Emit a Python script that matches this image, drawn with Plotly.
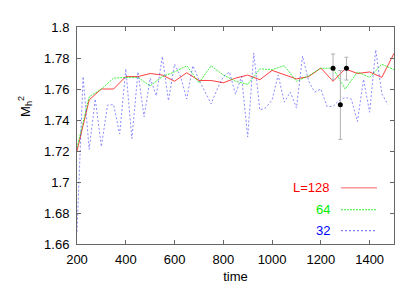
import plotly.graph_objects as go

# ---- data ----
t_main = [200, 250, 300, 350, 400, 450, 500, 550, 600, 650, 700, 750, 800, 850,
          900, 950, 1000, 1050, 1100, 1150, 1200, 1250, 1300, 1350, 1400, 1450, 1500]
m_L128 = [1.720, 1.753, 1.760, 1.760, 1.768, 1.768, 1.770, 1.769, 1.765, 1.7705,
          1.7655, 1.7655, 1.764, 1.767, 1.769, 1.766, 1.772, 1.769, 1.7665, 1.768,
          1.7735, 1.765, 1.773, 1.770, 1.771, 1.7675, 1.783]
m_L64 = [1.722, 1.755, 1.760, 1.767, 1.7675, 1.7675, 1.762, 1.768, 1.771, 1.775,
         1.764, 1.775, 1.769, 1.765, 1.763, 1.773, 1.7725, 1.775, 1.765, 1.7685,
         1.7734, 1.7734, 1.760, 1.771, 1.7675, 1.776, 1.7725]
t_L32 = [200, 225, 250, 275, 300, 325, 350, 375, 400, 425,
         450, 475, 500, 525, 550, 575, 600, 625, 650, 675,
         700, 725, 750, 775, 800, 825, 850, 875, 900, 925,
         950, 975, 1000, 1025, 1050, 1075, 1100, 1125, 1150, 1175,
         1200, 1225, 1250, 1275, 1300, 1325, 1350, 1375, 1400, 1425,
         1450, 1475]
m_L32 = [1.668, 1.768, 1.721, 1.7535, 1.7228, 1.7495, 1.750, 1.731, 1.773, 1.728,
         1.771, 1.742, 1.767, 1.7556, 1.781, 1.7525, 1.776, 1.768, 1.7535, 1.775,
         1.766, 1.758, 1.7504, 1.760, 1.768, 1.771, 1.7566, 1.768, 1.729, 1.7832,
         1.7464, 1.748, 1.753, 1.769, 1.7515, 1.758, 1.7477, 1.7812, 1.765, 1.758,
         1.760, 1.7488, 1.7488, 1.7525, 1.7546, 1.7535, 1.739, 1.7663, 1.745, 1.7853,
         1.757, 1.750]
t_err = [1250, 1280, 1305]
m_err = [1.7734, 1.7498, 1.7734]
err_plus = [0.0092, 0.0221, 0.0071]
err_minus = [0.0072, 0.0223, 0.0076]

x_ticks = [200, 400, 600, 800, 1000, 1200, 1400]
y_ticks = [1.66, 1.68, 1.70, 1.72, 1.74, 1.76, 1.78, 1.80]
y_ticktext = ["1.66", "1.68", "1.7", "1.72", "1.74", "1.76", "1.78", "1.8"]

legend_labels = ["L=128", "64", "32"]
colors = ["#ff0000", "#00ee00", "#0000ff"]

FONT = "Liberation Sans, Arial, sans-serif"

fig = go.Figure()
fig.add_trace(go.Scatter(x=t_main, y=m_L128, mode="lines",
                         line=dict(color=colors[0], width=1, dash="solid"), opacity=0.75))
fig.add_trace(go.Scatter(x=t_main, y=m_L64, mode="lines",
                         line=dict(color=colors[1], width=1, dash="2px,1px"), opacity=0.75))
fig.add_trace(go.Scatter(x=t_L32, y=m_L32, mode="lines",
                         line=dict(color=colors[2], width=1, dash="2px,2px"), opacity=0.45))
fig.add_trace(go.Scatter(x=t_err, y=m_err, mode="markers",
                         marker=dict(color="black", size=5),
                         error_y=dict(type="data", symmetric=False, array=err_plus,
                                      arrayminus=err_minus, color="#b0b0b0",
                                      thickness=1, width=2)))

# legend (gnuplot style: text then sample line)
L, R, T, B = 69, 23, 16, 42
W, H = 409 - L - R, 286 - T - B
rows_py = [185, 208, 230]
for lab, col, py, dsh, op in zip(legend_labels, colors, rows_py,
                                 ["solid", "2px,1px", "2px,2px"], [0.6, 0.8, 0.6]):
    yp = (244 - py) / H
    fig.add_annotation(x=(324 - L) / W, y=yp, xref="paper", yref="paper",
                       text=lab, showarrow=False, xanchor="right", yanchor="middle",
                       font=dict(family=FONT, size=13, color=col))
    fig.add_shape(type="line", xref="paper", yref="paper",
                  x0=(333 - L) / W, x1=(369 - L) / W, y0=yp, y1=yp,
                  line=dict(color=col, width=1, dash=dsh), opacity=op)

fig.add_annotation(x=(17 - L) / W, y=(244 - 100) / H, xref="paper", yref="paper",
                   text="M<sub>h</sub><sup>2</sup>", showarrow=False, textangle=-90,
                   xanchor="center", yanchor="middle",
                   font=dict(family=FONT, size=13, color="black"))

axis_common = dict(showline=True, linecolor="#666666", linewidth=1, mirror="ticks",
                   ticks="inside", ticklen=4, tickcolor="#666666", tickwidth=1,
                   showgrid=False, zeroline=False,
                   tickfont=dict(family=FONT, size=13, color="black"))

fig.update_layout(
    width=409, height=286,
    margin=dict(l=L, r=R, t=T, b=B),
    paper_bgcolor="white", plot_bgcolor="white",
    showlegend=False,
    xaxis=dict(range=[200, 1500], tickvals=x_ticks, ticklabelstandoff=3,
               title=dict(text="time", font=dict(family=FONT, size=13, color="black"), standoff=6),
               **axis_common),
    yaxis=dict(range=[1.66, 1.80], tickvals=y_ticks, ticktext=y_ticktext,
               ticklabelstandoff=4, **axis_common),
)

fig.write_html("out.html")
